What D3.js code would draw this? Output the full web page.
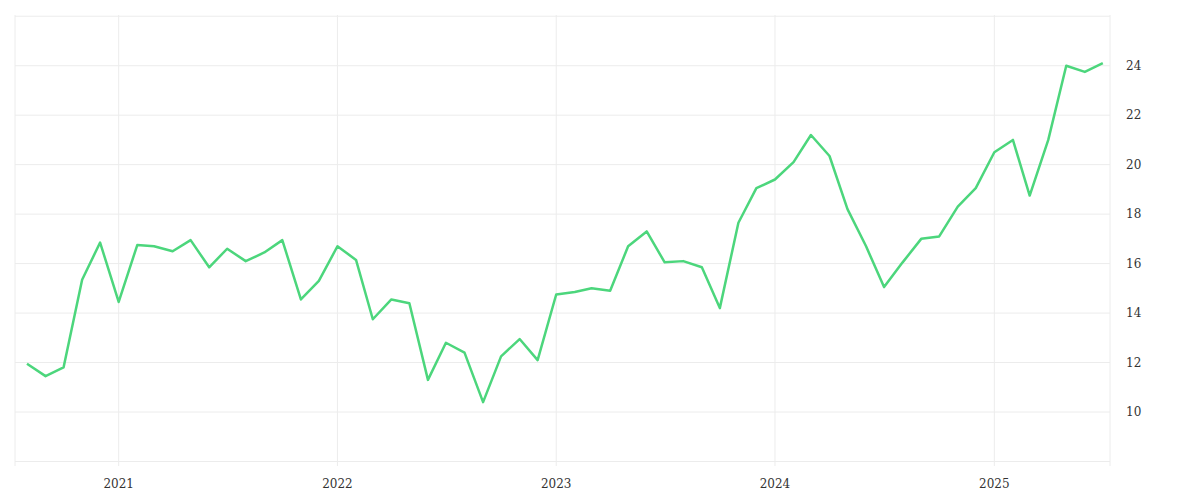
<!DOCTYPE html>
<html><head><meta charset="utf-8">
<script src="https://cdn.jsdelivr.net/npm/d3@7"></script>
<style>body{margin:0;background:#fff}</style></head>
<body><div id="chart"></div>
<script>
// monthly values, Aug 2020 .. Jul 2025
const startMonth = "2020-08";
const values = [11.95, 11.45, 11.8, 15.35, 16.85,
  14.45, 16.75, 16.7, 16.5, 16.95, 15.85, 16.6, 16.1, 16.45, 16.95, 14.55, 15.3,
  16.7, 16.15, 13.75, 14.55, 14.4, 11.3, 12.8, 12.4, 10.4, 12.25, 12.95, 12.1,
  14.75, 14.85, 15.0, 14.9, 16.7, 17.3, 16.05, 16.1, 15.85, 14.2, 17.65, 19.05,
  19.4, 20.1, 21.2, 20.35, 18.2, 16.7, 15.05, 16.05, 17.0, 17.1, 18.3, 19.05,
  20.5, 21.0, 18.75, 21.0, 24.0, 23.75, 24.1];
const yTicks = [10, 12, 14, 16, 18, 20, 22, 24];
const yGrid = [8, 10, 12, 14, 16, 18, 20, 22, 24, 26];
const xTickYears = [2021, 2022, 2023, 2024, 2025];

const W = 1200, H = 500;
const mLeft = 15, mRight = 1110, mTop = 15, mBottom = 460;

const parse = d3.timeParse("%Y-%m");
const t0 = parse(startMonth);
const data = values.map((v, i) => ({ date: d3.timeMonth.offset(t0, i), value: v }));
const DAY = 864e5;

const x = d3.scaleTime()
  .domain([new Date(+t0 - 20 * DAY), new Date(+data[data.length - 1].date + 12 * DAY)])
  .range([mLeft, mRight]);
const y = d3.scaleLinear().domain([8.06, 26.05]).range([mBottom, mTop]);

const svg = d3.select("#chart").append("svg")
  .attr("width", W).attr("height", H);

// grid
svg.append("g").selectAll("line").data(yGrid).join("line")
  .attr("x1", mLeft).attr("x2", mRight)
  .attr("y1", d => y(d)).attr("y2", d => y(d))
  .attr("stroke", "#ececec");
const yearDates = xTickYears.map(d => new Date(d, 0, 1));
svg.append("g").selectAll("line").data(yearDates).join("line")
  .attr("x1", d => x(d)).attr("x2", d => x(d))
  .attr("y1", mTop).attr("y2", mBottom + 6)
  .attr("stroke", "#ececec");
[mLeft, mRight].forEach(px => svg.append("line")
  .attr("x1", px).attr("x2", px).attr("y1", mTop).attr("y2", mBottom + 6)
  .attr("stroke", "#ececec"));

// axis labels
svg.append("g").selectAll("text").data(yTicks).join("text")
  .attr("x", mRight + 16).attr("y", d => y(d) + 4)
  .text(d => d)
  .style("font-family", "DejaVu Serif, serif").style("font-size", "12px").attr("fill", "#333");
svg.append("g").selectAll("text").data(yearDates).join("text")
  .attr("x", d => x(d)).attr("y", mBottom + 28)
  .attr("text-anchor", "middle")
  .text(d => d.getFullYear())
  .style("font-family", "DejaVu Serif, serif").style("font-size", "12px").attr("fill", "#333");

// line
const line = d3.line().x(d => x(d.date)).y(d => y(d.value));
svg.append("path").datum(data)
  .attr("d", line)
  .attr("fill", "none")
  .attr("stroke", "#4cd67c")
  .attr("stroke-width", 2.5)
  .attr("stroke-linejoin", "round");
</script></body></html>
